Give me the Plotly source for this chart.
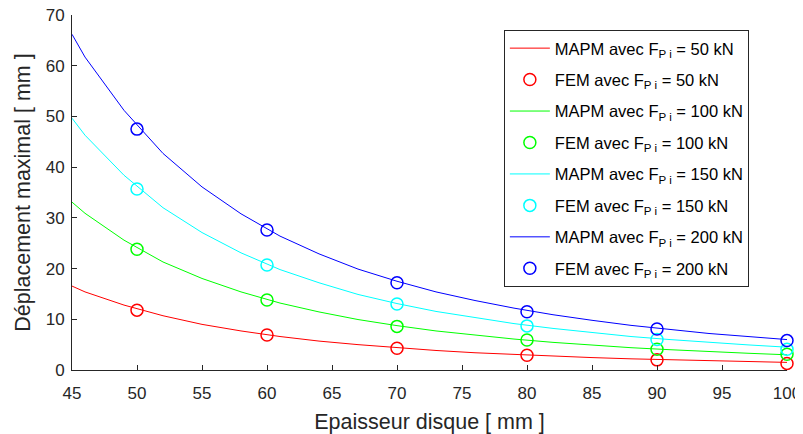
import plotly.graph_objects as go

# MAPM curves (sampled thickness)
x_mapm = [45, 46, 49, 52, 55, 58, 61, 64, 67, 70, 73, 76, 79, 82, 85, 88, 91, 94, 97, 100]
mapm_50 = [16.55, 15.4, 12.8, 10.7, 9.0, 7.7, 6.6, 5.7, 5.0, 4.4, 3.85, 3.4, 3.05, 2.7, 2.45, 2.2, 2.0, 1.8, 1.65, 1.5]
mapm_100 = [33.1, 30.9, 25.6, 21.3, 18.05, 15.4, 13.2, 11.45, 9.95, 8.75, 7.7, 6.85, 6.1, 5.45, 4.9, 4.4, 4.0, 3.6, 3.3, 3.0]
mapm_150 = [49.65, 46.3, 38.4, 32.0, 27.1, 23.1, 19.8, 17.2, 14.9, 13.1, 11.55, 10.3, 9.15, 8.2, 7.35, 6.6, 6.0, 5.4, 4.95, 4.5]
mapm_200 = [66.2, 61.7, 51.2, 42.7, 36.1, 30.8, 26.4, 22.9, 19.9, 17.5, 15.4, 13.7, 12.2, 10.9, 9.8, 8.8, 8.0, 7.2, 6.6, 6.0]

# FEM points
x_fem = [50, 60, 70, 80, 90, 100]
fem_50 = [11.8, 6.9, 4.3, 2.9, 2.0, 1.3]
fem_100 = [23.8, 13.8, 8.6, 5.9, 4.1, 3.1]
fem_150 = [35.7, 20.7, 13.0, 8.7, 6.0, 4.1]
fem_200 = [47.5, 27.6, 17.2, 11.5, 8.1, 5.8]

x_ticks = [45, 50, 55, 60, 65, 70, 75, 80, 85, 90, 95, 100]
y_ticks = [0, 10, 20, 30, 40, 50, 60, 70]

loads = ["50", "100", "150", "200"]
colors = ["#ff0000", "#00ff00", "#00ffff", "#0000ff"]
mapm = [mapm_50, mapm_100, mapm_150, mapm_200]
fem = [fem_50, fem_100, fem_150, fem_200]

fig = go.Figure()
k = 0
for load, col, m, f in zip(loads, colors, mapm, fem):
    fig.add_trace(go.Scatter(
        x=x_mapm, y=m, mode="lines", line=dict(color=col, width=1),
        name=f"MAPM avec F<sub>P i</sub> = {load} kN", cliponaxis=False,
        legendgroup=f"g{k}"))
    k += 1
    fig.add_trace(go.Scatter(
        x=x_fem, y=f, mode="markers",
        marker=dict(symbol="circle-open", size=12, color=col, line=dict(width=1.5, color=col)),
        name=f"FEM avec F<sub>P i</sub> = {load} kN", cliponaxis=False,
        legendgroup=f"g{k}"))
    k += 1

axis_col = "#262626"
fig.update_layout(
    width=795, height=426,
    margin=dict(l=64, r=16, t=7, b=64, autoexpand=False),
    paper_bgcolor="white", plot_bgcolor="white",
    font=dict(family="Liberation Sans, Arial, sans-serif", color=axis_col, size=17),
    xaxis=dict(range=[45, 100], tickvals=x_ticks,
               ticks="inside", ticklen=5, tickcolor=axis_col, showline=True, linecolor=axis_col,
               linewidth=1, showgrid=False, zeroline=False, automargin=False,
               ticklabelstandoff=8, ticklabeloverflow="allow",
               title=dict(text="Epaisseur disque [ mm ]", font=dict(size=21.5), standoff=15),
               tickfont=dict(size=17)),
    yaxis=dict(range=[0, 70], tickvals=y_ticks,
               ticks="inside", ticklen=5, tickcolor=axis_col, showline=True, linecolor=axis_col,
               linewidth=1, showgrid=False, zeroline=False, automargin=False,
               ticklabelstandoff=3, ticklabeloverflow="allow",
               title=dict(text="Déplacement maximal [ mm ]", font=dict(size=21.5), standoff=9),
               tickfont=dict(size=17)),
    legend=dict(x=0.604, y=0.958, xanchor="left", yanchor="top",
                bgcolor="white", bordercolor="#262626", borderwidth=1, itemwidth=40,
                font=dict(size=16.5, color="black"), tracegroupgap=7),
    showlegend=True,
)

fig.write_html("out.html")
